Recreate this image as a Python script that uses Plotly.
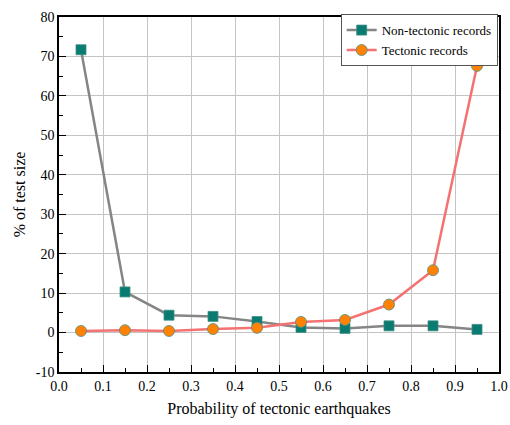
import plotly.graph_objects as go

prob = [0.05, 0.15, 0.25, 0.35, 0.45, 0.55, 0.65, 0.75, 0.85, 0.95]
non_tectonic = [71.7, 10.3, 4.4, 4.1, 2.8, 1.3, 1.05, 1.7, 1.7, 0.8]
tectonic = [0.4, 0.6, 0.4, 0.9, 1.2, 2.7, 3.2, 7.1, 15.8, 67.6]

x_ticks = [0.0, 0.1, 0.2, 0.3, 0.4, 0.5, 0.6, 0.7, 0.8, 0.9, 1.0]
x_ticklabels = ["0.0", "0.1", "0.2", "0.3", "0.4", "0.5", "0.6", "0.7", "0.8", "0.9", "1.0"]
y_ticks = [-10, 0, 10, 20, 30, 40, 50, 60, 70, 80]
y_ticklabels = ["-10", "0", "10", "20", "30", "40", "50", "60", "70", "80"]

font_family = "Liberation Serif, serif"

fig = go.Figure()
fig.add_trace(go.Scatter(
    x=prob, y=non_tectonic, mode="lines+markers", name="Non-tectonic records",
    line=dict(color="#858585", width=2.5),
    marker=dict(symbol="square", size=10, color="#0A7B70",
                line=dict(color="#3E8F85", width=0.8)),
))
fig.add_trace(go.Scatter(
    x=prob, y=tectonic, mode="lines+markers", name="Tectonic records",
    line=dict(color="#F57272", width=2.5),
    marker=dict(symbol="circle", size=11, color="#FF8205",
                line=dict(color="#4E8F80", width=0.8)),
))

fig.update_layout(
    xaxis=dict(
        range=[0, 1], tickmode="array", tickvals=x_ticks, ticktext=x_ticklabels,
        showline=True, linecolor="black", linewidth=1.5, mirror=True,
        showgrid=True, gridcolor="#c4c4c4", gridwidth=1, zeroline=False,
        ticks="inside", ticklen=7, tickwidth=1.2, tickcolor="black",
        tickfont=dict(family=font_family, size=14, color="black"),
        minor=dict(ticks="inside", ticklen=4, tickwidth=1.2, tickcolor="black",
                   tickmode="linear", tick0=0.05, dtick=0.1, showgrid=False),
        title=dict(text="Probability of tectonic earthquakes",
                   font=dict(family=font_family, size=16, color="black"), standoff=10),
    ),
    yaxis=dict(
        range=[-10, 80], tickmode="array", tickvals=y_ticks, ticktext=y_ticklabels,
        showline=True, linecolor="black", linewidth=1.5, mirror=True,
        showgrid=True, gridcolor="#c4c4c4", gridwidth=1, zeroline=False,
        ticks="inside", ticklen=7, tickwidth=1.2, tickcolor="black",
        tickfont=dict(family=font_family, size=14, color="black"),
        minor=dict(ticks="inside", ticklen=4, tickwidth=1.2, tickcolor="black",
                   tickmode="linear", tick0=-5, dtick=10, showgrid=False),
        title=dict(text="% of test size",
                   font=dict(family=font_family, size=16, color="black"), standoff=6),
    ),
    width=510, height=425,
    margin=dict(l=59, r=11, t=17, b=53, autoexpand=False),
    paper_bgcolor="white", plot_bgcolor="white",
    font=dict(family=font_family, size=14, color="black"),
    showlegend=True,
    legend=dict(
        x=0.997, y=1.008, xanchor="right", yanchor="top",
        bgcolor="white", bordercolor="#555555", borderwidth=1,
        font=dict(family=font_family, size=13, color="black"),
        tracegroupgap=0, itemwidth=30,
    ),
)

fig.write_html(
    "out.html",
    config={"displayModeBar": False},
    post_script="document.body.style.margin='0';document.body.style.overflow='hidden';",
)
